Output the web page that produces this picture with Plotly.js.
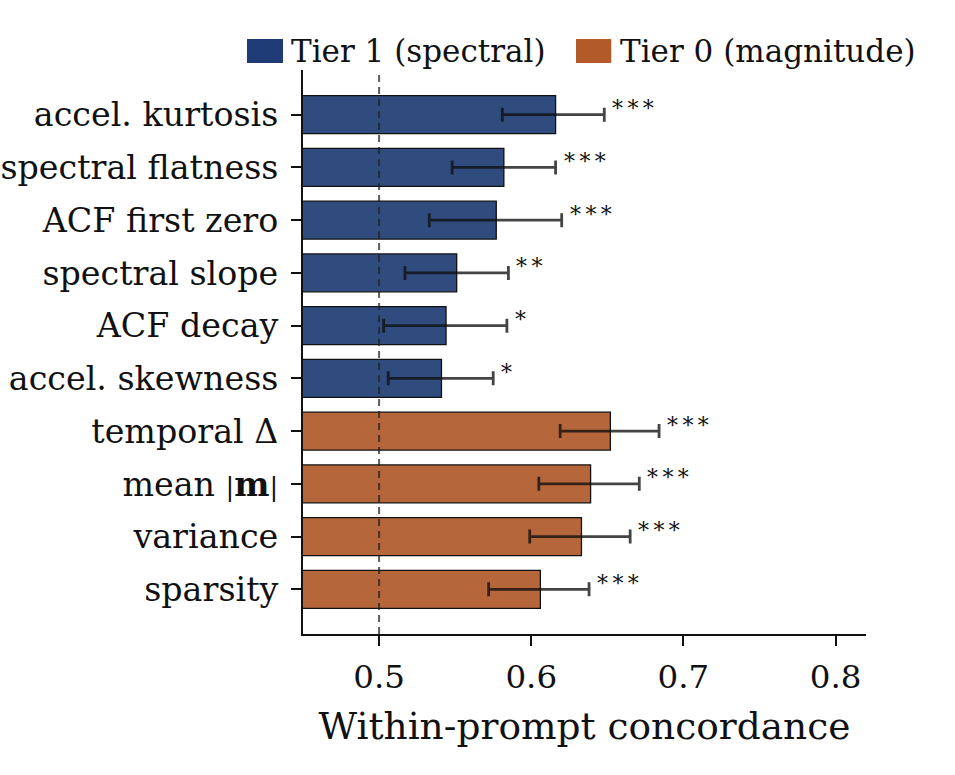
<!DOCTYPE html>
<html>
<head>
<meta charset="utf-8">
<script src="https://cdn.plot.ly/plotly-3.0.1.min.js"></script>
<style>html,body{margin:0;padding:0;background:#fff;}</style>
</head>
<body>
<div id="chart" style="width:955px;height:775px;"></div>
<script>
// Data (top to bottom as drawn)
const features = ["accel. kurtosis", "spectral flatness", "ACF first zero", "spectral slope", "ACF decay", "accel. skewness", "temporal Δ", "mean <span style=\"font-size:26px\">|</span><b>m</b><span style=\"font-size:26px\">|</span>", "variance", "sparsity"];
const tiers = ["Tier 1 (spectral)", "Tier 1 (spectral)", "Tier 1 (spectral)", "Tier 1 (spectral)", "Tier 1 (spectral)", "Tier 1 (spectral)", "Tier 0 (magnitude)", "Tier 0 (magnitude)", "Tier 0 (magnitude)", "Tier 0 (magnitude)"];
const concordance = [0.616, 0.582, 0.577, 0.551, 0.544, 0.541, 0.652, 0.639, 0.633, 0.606];
const ciLow = [0.581, 0.548, 0.533, 0.517, 0.503, 0.506, 0.619, 0.605, 0.599, 0.572];
const ciHigh = [0.648, 0.616, 0.620, 0.585, 0.584, 0.575, 0.684, 0.671, 0.665, 0.638];
const stars = ["***", "***", "***", "**", "*", "*", "***", "***", "***", "***"];
const chance = 0.5;
const xTicks = [0.5, 0.6, 0.7, 0.8];

const tierNames = ["Tier 1 (spectral)", "Tier 0 (magnitude)"];
const barColors = {"Tier 1 (spectral)": "#304c7e", "Tier 0 (magnitude)": "#b5663b"};
const swatchColors = {"Tier 1 (spectral)": "#1f3c76", "Tier 0 (magnitude)": "#b35a2b"};

const FONT = "DejaVu Serif, serif";

const traces = tierNames.map(t => {
  const idx = features.map((f, i) => i).filter(i => tiers[i] === t);
  return {
    type: "bar",
    orientation: "h",
    name: t,
    x: idx.map(i => concordance[i]),
    y: idx.map(i => features[i]),
    width: 0.72,
    marker: {color: barColors[t], line: {color: "#111", width: 1.3}},
    error_x: {
      type: "data", symmetric: false,
      array: idx.map(i => ciHigh[i] - concordance[i]),
      arrayminus: idx.map(i => concordance[i] - ciLow[i]),
      color: "rgba(15,15,15,0.78)", thickness: 2.8, width: 7
    },
    showlegend: false,
    hoverinfo: "x+y"
  };
});

const annotations = features.map((f, i) => ({
  x: ciHigh[i], y: f, xref: "x", yref: "y",
  text: stars[i].split("").join("\u2009"), showarrow: false,
  xanchor: "left", yanchor: "middle", xshift: 6, yshift: 6,
  font: {family: FONT, size: 22, color: "#111"}
}));

// legend (manual)
const legendItems = [
  {name: tierNames[0], x0: -0.0995, x1: -0.0355, tx: -0.024},
  {name: tierNames[1], x0: 0.4849, x1: 0.5475, tx: 0.559}
];
const shapes = [{
  type: "line", xref: "x", yref: "paper", x0: chance, x1: chance, y0: 0, y1: 1,
  line: {color: "rgba(30,30,30,0.72)", width: 2, dash: "7px,5px"}, layer: "above"
}];
legendItems.forEach(li => {
  shapes.push({type: "rect", xref: "paper", yref: "paper", x0: li.x0, x1: li.x1, y0: 1.0124, y1: 1.055,
    fillcolor: swatchColors[li.name], line: {width: 0}});
  annotations.push({xref: "paper", yref: "paper", x: li.tx, y: 1.034, text: li.name, showarrow: false,
    xanchor: "left", yanchor: "middle", font: {family: FONT, size: 31, color: "#111"}});
});

const layout = {
  width: 955, height: 775,
  margin: {l: 303, r: 89, t: 70, b: 141, pad: 0},
  paper_bgcolor: "#fff", plot_bgcolor: "#fff",
  font: {family: FONT, size: 31, color: "#111"},
  bargap: 0,
  xaxis: {
    range: [0.45, 0.82], tickvals: xTicks, ticktext: xTicks.map(v => v.toFixed(1)),
    showgrid: false, zeroline: false, showline: true, linecolor: "#111", linewidth: 2,
    ticks: "outside", ticklen: 10, tickwidth: 2, tickcolor: "#111",
    ticklabelstandoff: 3,
    tickfont: {family: FONT, size: 32.5, color: "#111"},
    title: {text: "Within-prompt concordance", font: {family: FONT, size: 37.5, color: "#111"}, standoff: 18}
  },
  yaxis: {
    type: "category",
    categoryorder: "array", categoryarray: features.slice().reverse(),
    range: [-0.846, 9.846],
    showgrid: false, zeroline: false, showline: true, linecolor: "#111", linewidth: 2,
    ticks: "outside", ticklen: 10, tickwidth: 2, tickcolor: "#111",
    ticklabelstandoff: 6,
    tickfont: {family: FONT, size: 33.3, color: "#111"}
  },
  shapes: shapes,
  annotations: annotations,
  showlegend: false
};

Plotly.newPlot("chart", traces, layout, {displayModeBar: false, staticPlot: true});
</script>
</body>
</html>
